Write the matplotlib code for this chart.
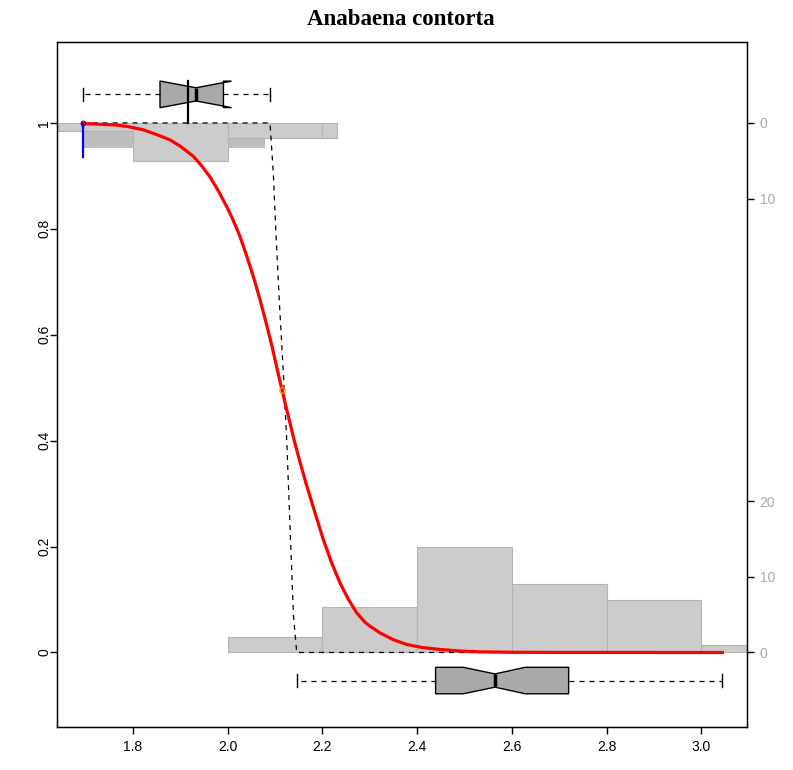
import numpy as np
import matplotlib.pyplot as plt

# histogram of the y = 0 group (bars standing on 0), 0.2 wide bins
bot_breaks = [2.0, 2.2, 2.4, 2.6, 2.8, 3.0, 3.2]
bot_counts = [2, 6, 14, 9, 7, 1]

# histogram of the y = 1 group (bars hanging from 1)
top_left = [1.6, 1.8, 2.0, 2.2]
top_right = [1.8, 2.0, 2.2, 2.231]
top_counts = [1, 5, 2, 2]
# darker band behind the top bars
band_left, band_right = 1.6935, 2.078
band_count = 3.3

# bars are scaled so the tallest one reaches 0.2
count_scale = 0.2 / max(bot_counts)

# fitted logistic curve (red)
red_x = [1.6935, 1.72, 1.7656, 1.79, 1.8218, 1.85, 1.8781, 1.90, 1.9274, 1.945,
         1.9626, 1.98, 1.9979, 2.01, 2.026, 2.04, 2.0541, 2.068, 2.0824, 2.093,
         2.1035, 2.112, 2.121, 2.1316, 2.14, 2.15, 2.1668, 2.185, 2.2019, 2.22,
         2.2371, 2.255, 2.2724, 2.29, 2.30, 2.3216, 2.35, 2.378, 2.41, 2.4484,
         2.49, 2.5329, 2.60, 2.70, 3.0446]
red_p = [0.999, 0.998, 0.996, 0.993, 0.987, 0.978, 0.968, 0.956, 0.937, 0.919,
         0.898, 0.872, 0.842, 0.8195, 0.7855, 0.749, 0.71, 0.667, 0.618, 0.58,
         0.539, 0.506, 0.472, 0.433, 0.402, 0.368, 0.315, 0.262, 0.2132, 0.168,
         0.1315, 0.1, 0.0749, 0.057, 0.05, 0.037, 0.024, 0.0151, 0.0095, 0.0057,
         0.0028, 0.0012, 0.0004, 0.0001, 0.0]

# separated fit (dashed)
fit_x = [1.6935, 2.0893, 2.0963, 2.1018, 2.1095, 2.1178, 2.1213, 2.1249,
         2.1283, 2.1334, 2.1389, 2.1457, 3.0446]
fit_p = [1.0, 1.0, 0.905, 0.7925, 0.6547, 0.5226, 0.4585, 0.3962, 0.3151,
         0.1949, 0.0698, 0.0, 0.0]

# notched boxplots of x for each group
box_top = dict(whislo=1.6935, q1=1.857, cilo=1.858, med=1.933, cihi=2.008,
               q3=1.991, whishi=2.0893)
box_bot = dict(whislo=2.1457, q1=2.439, cilo=2.4976, med=2.5645, cihi=2.628,
               q3=2.720, whishi=3.0446)
top_mark_x = 1.9155

x_min = 1.6935
p50_x, p50_p = 2.1147, 0.496

fig = plt.figure(figsize=(7.93, 7.70), dpi=100)
ax = fig.add_axes([0.0719, 0.0558, 0.8701, 0.8896])

light = '#cccccc'
edge = '#b4b4b4'

# histograms
ax.bar(band_left, -band_count * count_scale, band_right - band_left, bottom=1,
       align='edge', color='#bdbdbd', edgecolor='none', zorder=1)
for l, r, c in zip(top_left, top_right, top_counts):
    ax.bar(l, -c * count_scale, r - l, bottom=1, align='edge',
           color=light, edgecolor=edge, lw=0.8, zorder=2)
ax.bar(bot_breaks[:-1], np.array(bot_counts) * count_scale, np.diff(bot_breaks),
       align='edge', color=light, edgecolor=edge, lw=0.8, zorder=2)

# curves
ax.plot(fit_x, fit_p, color='black', lw=0.9, ls=(0, (4, 4)), zorder=3)
ax.plot(red_x, red_p, color='red', lw=2.3, zorder=4, solid_joinstyle='round')
ax.plot([x_min, x_min], [0.998, 0.936], color='blue', lw=1.6, zorder=5)
ax.plot(x_min, 1.0, 'o', mfc='none', mec='blue', ms=3.5, mew=0.7, zorder=5)
ax.plot(p50_x, p50_p, 'o', mfc='none', mec='orange', ms=4, mew=0.8, zorder=5)

# boxplots
ax.bxp([box_top, box_bot], positions=[1.054, -0.053], widths=0.05,
       capwidths=0.025, orientation='horizontal', shownotches=True,
       showfliers=False, patch_artist=True, manage_ticks=False,
       boxprops=dict(facecolor='#a9a9a9', edgecolor='black', lw=1),
       whiskerprops=dict(color='black', lw=0.9, ls=(0, (4, 4))),
       capprops=dict(color='black', lw=1),
       medianprops=dict(color='black', lw=2.5), zorder=5)
ax.plot([top_mark_x, top_mark_x], [1.0, 1.079], color='black', lw=1.6, zorder=6)

ax.set_xlim(1.6395, 3.0967)
ax.set_ylim(-0.1408, 1.1528)

ax.set_xticks([1.8, 2.0, 2.2, 2.4, 2.6, 2.8, 3.0])
ax.set_xticklabels(['1.8', '2.0', '2.2', '2.4', '2.6', '2.8', '3.0'])
ax.set_yticks([0, 0.2, 0.4, 0.6, 0.8, 1])
ax.set_yticklabels(['0', '0.2', '0.4', '0.6', '0.8', '1'], rotation=90, va='center')
ax.tick_params(direction='out', length=5, width=1, labelsize=10, pad=4)
ax.tick_params(axis='y', pad=-1)
for s in ax.spines.values():
    s.set_linewidth(1)

# right-hand count axis
ax2 = ax.twinx()
ax2.set_ylim(ax.get_ylim())
top_ticks = [0, 10]
bot_ticks = [0, 10, 20]
ax2.set_yticks([1 - t * count_scale for t in top_ticks] + [t * count_scale for t in bot_ticks])
ax2.set_yticklabels([str(t) for t in top_ticks] + [str(t) for t in bot_ticks])
ax2.tick_params(direction='out', length=5, width=1, labelsize=10, labelcolor='#a8a8a8', pad=4)

for a in (ax, ax2):
    for lab in a.get_xticklabels() + a.get_yticklabels():
        lab.set_family('Liberation Sans')

fig.suptitle('Anabaena contorta', x=0.505, y=0.988, fontsize=16.5, fontweight='bold',
             family='Liberation Serif')

fig.savefig('out.png', dpi=100)
